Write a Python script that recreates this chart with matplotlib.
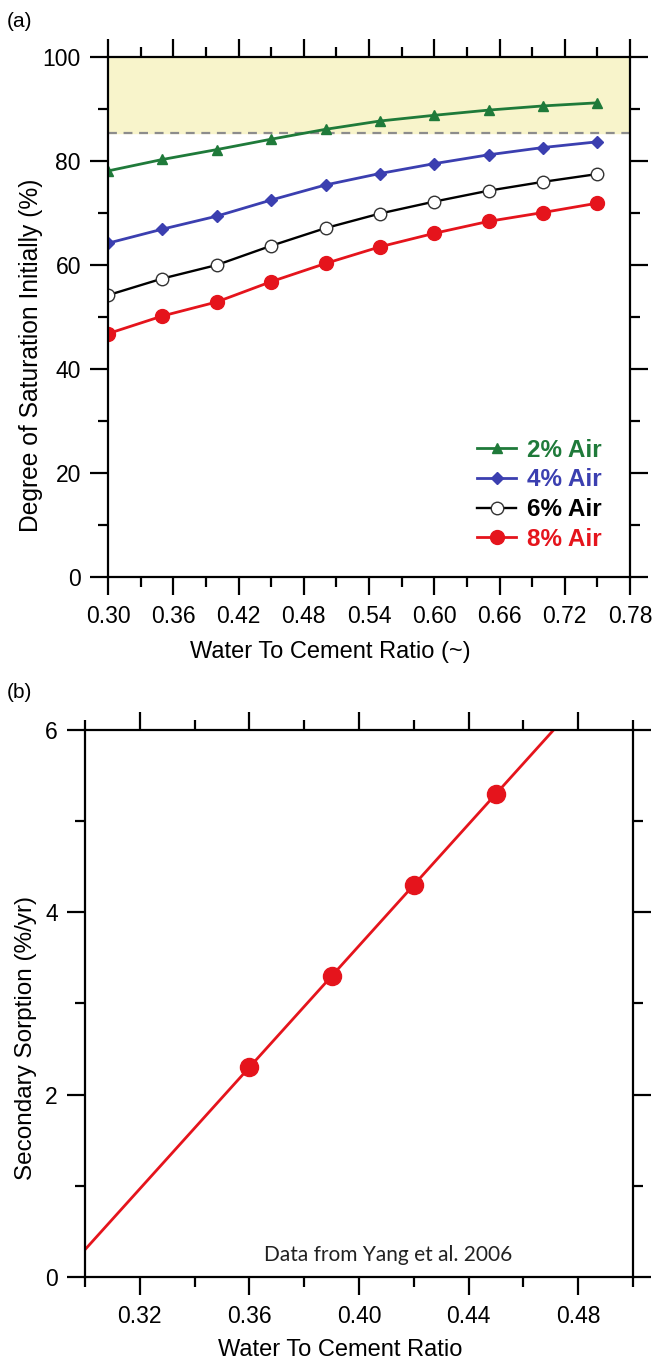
import matplotlib.pyplot as plt
import matplotlib.ticker as mticker
import numpy as np

# panel (a): degree of saturation vs w/c ratio
wc_ratio = [0.30, 0.35, 0.40, 0.45, 0.50, 0.55, 0.60, 0.65, 0.70, 0.75]
air_2 = [78.1, 80.3, 82.2, 84.2, 86.1, 87.7, 88.8, 89.8, 90.6, 91.2]
air_4 = [64.2, 66.9, 69.4, 72.5, 75.4, 77.6, 79.5, 81.2, 82.6, 83.7]
air_6 = [54.2, 57.4, 60.0, 63.7, 67.1, 69.9, 72.2, 74.3, 76.0, 77.5]
air_8 = [46.8, 50.2, 52.9, 56.8, 60.3, 63.5, 66.1, 68.4, 70.1, 71.9]
critical_sat = 85.3

# panel (b): secondary sorption vs w/c ratio (Yang et al. 2006)
sorp_wc = [0.36, 0.39, 0.42, 0.45]
sorp_rate = [2.3, 3.3, 4.3, 5.3]
fit_wc = [0.30, 0.471]
fit_rate = [0.3, 6.0]

green = "#1f7a3a"
blue = "#3b3fb0"
red = "#e5141c"

plt.rcParams["font.family"] = ["Liberation Sans", "DejaVu Sans"]


def style_axes(ax):
    for s in ax.spines.values():
        s.set_linewidth(1.6)
    ax.tick_params(which="both", direction="out", top=True, right=True,
                   labelsize=16.5, width=1.6)
    ax.tick_params(which="major", length=13)
    ax.tick_params(which="minor", length=7)
    ax.tick_params(axis="x", pad=7.5)
    ax.tick_params(axis="y", pad=6.5)
    ax.tick_params(labeltop=False, labelright=False)


def place_labels(ax, xpos, ypos):
    ax.xaxis.set_label_coords(*xpos)
    ax.yaxis.set_label_coords(*ypos)
    ax.xaxis.label.set_va("center")
    ax.yaxis.label.set_va("center")


fig = plt.figure(figsize=(6.53, 13.65), dpi=100)

ax1 = fig.add_axes([0.1654, 0.5773, 0.7994, 0.3809])
ax1.axhspan(critical_sat, 100, color="#f8f4cb", zorder=0)
ax1.axhline(critical_sat, color="#8c8c8c", lw=1.6, ls=(0, (4, 3)), zorder=1)
ax1.plot(wc_ratio, air_2, color=green, lw=2, marker="^", ms=7, label="2% Air")
ax1.plot(wc_ratio, air_4, color=blue, lw=2, marker="D", ms=6.5, label="4% Air")
ax1.plot(wc_ratio, air_6, color="black", lw=1.7, marker="o", ms=9,
         mfc="white", mec="#333333", label="6% Air")
ax1.plot(wc_ratio, air_8, color=red, lw=2, marker="o", ms=10, label="8% Air")
ax1.set_xlim(0.30, 0.78)
ax1.set_ylim(0, 100)
ax1.xaxis.set_major_locator(mticker.MultipleLocator(0.06))
ax1.xaxis.set_minor_locator(mticker.MultipleLocator(0.03))
ax1.xaxis.set_major_formatter(mticker.FormatStrFormatter("%.2f"))
ax1.yaxis.set_major_locator(mticker.MultipleLocator(20))
ax1.yaxis.set_minor_locator(mticker.MultipleLocator(10))
style_axes(ax1)
ax1.set_xlabel("Water To Cement Ratio (~)", fontsize=17)
ax1.set_ylabel("Degree of Saturation Initially (%)", fontsize=17.7)
place_labels(ax1, (0.425, -0.144), (-0.1475, 0.427))
ax1.legend(loc="lower right", bbox_to_anchor=(0.988, 0.008), frameon=False,
           handlelength=1.6, handletextpad=0.45, labelspacing=0.28, borderpad=0.4,
           labelcolor="linecolor", prop={"weight": "bold", "size": 17.5})
fig.text(0.011, 0.991, "(a)", fontsize=15, va="top")

ax2 = fig.add_axes([0.1302, 0.0645, 0.8392, 0.4007])
ax2.plot(fit_wc, fit_rate, color=red, lw=2, zorder=2)
ax2.plot(sorp_wc, sorp_rate, ls="none", marker="o", ms=13, color=red, zorder=3)
ax2.set_xlim(0.30, 0.50)
ax2.set_ylim(0, 6)
ax2.xaxis.set_major_locator(mticker.FixedLocator([0.32, 0.36, 0.40, 0.44, 0.48]))
ax2.xaxis.set_minor_locator(mticker.FixedLocator([0.30, 0.34, 0.38, 0.42, 0.46, 0.50]))
ax2.xaxis.set_major_formatter(mticker.FormatStrFormatter("%.2f"))
ax2.yaxis.set_major_locator(mticker.MultipleLocator(2))
ax2.yaxis.set_minor_locator(mticker.MultipleLocator(1))
style_axes(ax2)
ax2.set_xlabel("Water To Cement Ratio", fontsize=17)
ax2.set_ylabel("Secondary Sorption (%/yr)", fontsize=17.5)
place_labels(ax2, (0.465, -0.133), (-0.108, 0.437))
ax2.text(0.553, 0.040, "Data from Yang et al. 2006", transform=ax2.transAxes,
         ha="center", va="center", fontsize=15, color="#222222",
         family=["Lato", "DejaVu Sans"])
fig.text(0.011, 0.4996, "(b)", fontsize=15, va="top")

fig.savefig("out.png", dpi=100)
